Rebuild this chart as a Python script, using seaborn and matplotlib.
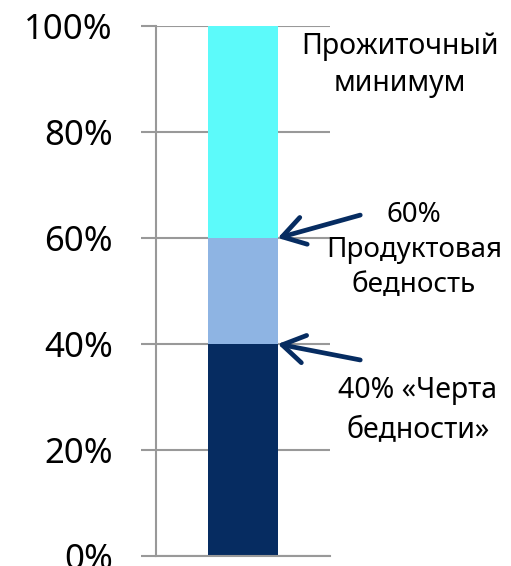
import numpy as np
import matplotlib
matplotlib.use("Agg")
import matplotlib.pyplot as plt
import seaborn as sns

# Data
segments = [40, 20, 40]          # bottom -> top shares, %
seg_colors = ["#062C61", "#8EB4E3", "#5CFAFA"]
tick_values = [0, 20, 40, 60, 80, 100]
tick_labels = ["0%", "20%", "40%", "60%", "80%", "100%"]
label_top = "Прожиточный\nминимум"
label_mid = "60%\nПродуктовая\nбедность"
label_low = "40% «Черта\nбедности»"

sns.set_style("white")
plt.rcParams['font.family'] = ['Noto Sans', 'DejaVu Sans']

fig = plt.figure(figsize=(5.11, 5.66), dpi=100)
ax = fig.add_axes([156 / 511, 10 / 566, 174 / 511, 530 / 566])

# stacked bar: draw cumulative heights from the tallest down
tops = np.cumsum(segments)
for top, col in reversed(list(zip(tops, seg_colors))):
    sns.barplot(x=["Бедность"], y=[top], color=col, saturation=1,
                width=0.4, linewidth=0, ax=ax)

ax.set_xlim(-0.5, 0.5)
ax.set_ylim(0, 100)
ax.set_yticks(tick_values)
ax.set_yticklabels(tick_labels, fontsize=25, color="black")
ax.set_xticks([])
ax.set_xlabel("")
ax.set_ylabel("")
ax.tick_params(axis="y", direction="out", length=11, width=1.5,
               color="#999999", pad=20, left=True)
ax.grid(axis="y", color="#999999", linewidth=1.5)
ax.set_axisbelow(True)
for side in ["top", "right"]:
    ax.spines[side].set_visible(False)
for side in ["left", "bottom"]:
    ax.spines[side].set_color("#999999")
    ax.spines[side].set_linewidth(1.5)

# annotations
navy = seg_colors[0]
bar_edge = 0.2
arrow = dict(arrowstyle="->,head_length=0.8,head_width=0.5", lw=3.4,
             color=navy, mutation_scale=20, shrinkA=0, shrinkB=0)
ax.annotate("", xy=(bar_edge, tops[1]), xycoords="data",
            xytext=(0.705, 0.620), textcoords="figure fraction",
            arrowprops=arrow)
ax.annotate("", xy=(bar_edge, tops[0]), xycoords="data",
            xytext=(0.705, 0.364), textcoords="figure fraction",
            arrowprops=arrow)

fig.text(0.783, 0.885, label_top, ha="center", va="center",
         fontsize=20.5, linespacing=1.4, color="black")
fig.text(0.810, 0.558, label_mid, ha="center", va="center",
         fontsize=20, linespacing=1.32, color="black")
fig.text(0.818, 0.274, label_low, ha="center", va="center",
         fontsize=20.5, linespacing=1.5, color="black")

fig.savefig("out.png", dpi=100)
